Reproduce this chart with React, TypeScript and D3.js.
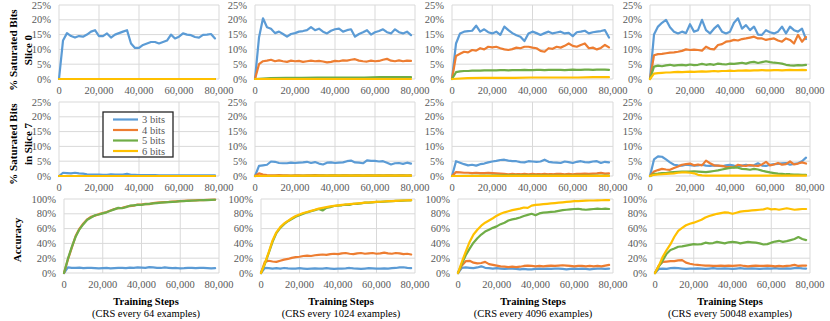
import React from "react";
import * as d3 from "d3";

// ---------- axis / label data ----------
const X_MAX = 80000;
const LAST_STEP = 78000;
const xTicks = [0, 20000, 40000, 60000, 80000];
const satTicks = [0, 5, 10, 15, 20, 25];
const accTicks = [0, 20, 40, 60, 80, 100];
const bitNames = ["3 bits", "4 bits", "5 bits", "6 bits"];
const bitColors = ["#5B9BD5", "#ED7D31", "#70AD47", "#FFC000"];
const crsEvery = ["64", "1024", "4096", "50048"];
const rowTitles = [["% Saturated Bits", "Slice 0"], ["% Saturated Bits", "in Slice 7"], ["Accuracy"]];
const xTitle = "Training Steps";

// ---------- Slice 0 (% saturated bits), values every 2,000 steps ----------
const s0_64_b3 = [0, 13, 15.5, 14.5, 14, 14.5, 14.3, 15, 16, 16.5,
  14.5, 14.5, 15.4, 14, 15, 15.5, 16, 16.5, 12, 10.5,
  10.5, 11.5, 12, 12.5, 12.5, 12, 12.5, 13, 15, 13.7,
  14.3, 15.4, 15, 14.8, 14.2, 14, 14.9, 15, 15.2, 13.7];
const s0_64_b4 = [0, 0];
const s0_64_b5 = [0, 0];
const s0_64_b6 = [0, 0];

const s0_1024_b3 = [0, 14, 20.5, 17.5, 17, 15.5, 16, 15.2, 14.3, 15.2,
  15.5, 16, 16.2, 16.5, 17.5, 16.5, 17, 16, 15.4, 16.3,
  16.8, 17, 16, 16.5, 16.8, 14.3, 15.2, 15.8, 16.5, 15,
  15.8, 16.2, 16.8, 15.8, 15.4, 16.8, 15.8, 15.4, 16, 14.8];
const s0_1024_b4 = [0, 5, 6, 6.2, 6.5, 6, 6.3, 6, 5.8, 6.2,
  6, 6.1, 5.8, 6, 6.2, 6, 6.1, 5.9, 5.6, 5.8,
  6.1, 6, 6.3, 6.2, 6.5, 6.7, 6.2, 6, 5.9, 6.2,
  6, 6.1, 6.5, 6.8, 6.2, 6, 6.3, 6, 6.2, 6.1];
const s0_1024_b5 = [0, 0.3, 0.4, 0.4, 0.5, 0.5, 0.5, 0.5, 0.6, 0.6, 0.6];
const s0_1024_b6 = [0, 0, 0];

const s0_4096_b3 = [0, 12, 15.4, 16, 16.2, 16.3, 18, 16, 16.8, 15.8,
  15.4, 16, 14.9, 17.7, 16.5, 15.5, 14.8, 14.3, 12.8, 15.4,
  16, 15.5, 14.9, 15.5, 16, 15.4, 15.7, 16, 15.4, 15.6,
  14.5, 15.8, 16, 16.3, 15.4, 15.8, 16, 16.2, 16.5, 14];
const s0_4096_b4 = [0, 7.8, 8.5, 9.2, 9, 9.8, 9.6, 10.4, 10, 10.9,
  10.7, 10.9, 10.4, 10, 9.8, 10.1, 10.6, 10.4, 10.9, 10.9,
  10.6, 10.4, 9.5, 9.2, 10.4, 10.2, 10.9, 10.6, 11.2, 12,
  11.2, 10.9, 11.5, 12, 10.4, 10.6, 10, 10.5, 11.5, 10.7];
const s0_4096_b5 = [0, 2.3, 2.6, 2.7, 2.7, 2.8, 2.8, 2.8, 2.9, 2.9,
  2.9, 2.9, 3, 3, 2.9, 3, 3, 3, 3.1, 3,
  3, 3.1, 3.1, 3, 3.1, 3.1, 3.1, 3.1, 3, 3.1,
  3.2, 3.1, 3.1, 3.2, 3.2, 3.1, 3.2, 3.2, 3.2, 3.1];
const s0_4096_b6 = [0, 0.3, 0.4, 0.4, 0.4, 0.5, 0.5, 0.5, 0.5, 0.6, 0.6];

const s0_50048_b3 = [0, 15, 17.7, 19, 20, 17.5, 16, 15.4, 16, 15.5,
  18.5, 16, 16.5, 20, 16.5, 15.4, 17, 18.2, 16, 15.4,
  16, 19, 20.5, 17, 18.2, 16.5, 17.7, 15, 14.9, 16.5,
  15.8, 15.4, 16, 17.7, 15.4, 17.7, 16.5, 16, 17, 13.5];
const s0_50048_b4 = [0, 8, 8.4, 8.5, 8.7, 8.9, 9, 9.2, 9.5, 10,
  9.8, 9.9, 9.8, 9.6, 10.9, 10.2, 10, 11.5, 11.8, 12.6,
  12.8, 13.2, 13, 13.5, 13.7, 14, 14.3, 13.7, 13.7, 13.2,
  13.5, 13.7, 13, 12.6, 13.7, 13.2, 12, 14.9, 12.6, 14.2];
const s0_50048_b5 = [0, 4.2, 4.5, 4.3, 4.6, 4.8, 4.5, 4.7, 4.8, 4.6,
  4.9, 4.7, 4.8, 5.1, 4.8, 5, 4.8, 5.2, 5, 4.9,
  5.2, 5.1, 5.3, 5.5, 5.2, 5.6, 5.8, 5.4, 5.7, 6,
  5.7, 5.5, 5.4, 5.2, 4.8, 4.6, 4.5, 4.7, 4.6, 4.8];
const s0_50048_b6 = [0, 1.8, 2, 2.1, 2.2, 2.2, 2.3, 2.4, 2.3, 2.4,
  2.5, 2.4, 2.5, 2.6, 2.5, 2.6, 2.7, 2.6, 2.7, 2.7,
  2.8, 2.7, 2.8, 2.8, 2.9, 2.8, 2.9, 2.9, 3, 2.9,
  2.9, 3, 3, 2.9, 3, 3.1, 3, 3, 3.1, 3];

// ---------- Slice 7 (% saturated bits) ----------
const s7_64_b3 = [0, 1.1, 1, 0.9, 1.1, 0.9, 0.8, 0.6, 0.5, 0.5,
  0.5, 0.4, 0.4, 0.6, 0.5, 0.5, 0.5, 0.7, 0.4, 0.4,
  0.3, 0.3, 0.3, 0.3, 0.3, 0.2, 0.2, 0.2, 0.2, 0.2,
  0.2, 0.2, 0.2, 0.2, 0.2, 0.2, 0.2, 0.2, 0.2, 0.2];
const s7_64_b4 = [0, 0];
const s7_64_b5 = [0, 0];
const s7_64_b6 = [0, 0];

const s7_1024_b3 = [0, 3.4, 3.6, 3.8, 4.9, 4.8, 4.4, 4.3, 4.3, 4.5,
  4.4, 4.5, 4.6, 4.8, 4.4, 4.7, 4.2, 3.9, 4.5, 4.6,
  4.4, 4.5, 4.6, 5, 5.2, 4.6, 4.5, 4.3, 5.3, 5.1,
  5.1, 4.9, 5, 4.5, 3.9, 4.3, 4.4, 4.1, 4.5, 4.2];
const s7_1024_b4 = [0, 0.9, 0.5, 0.3, 0.2, 0.2, 0.3, 0.2, 0.2, 0.1,
  0.2, 0.2, 0.1, 0.2, 0.2, 0.3, 0.2, 0.2, 0.1, 0.2,
  0.2, 0.1, 0.2, 0.2, 0.1, 0.2, 0.2, 0.1, 0.2, 0.2,
  0.1, 0.2, 0.1, 0.2, 0.2, 0.1, 0.2, 0.2, 0.1, 0.2];
const s7_1024_b5 = [0, 0.1, 0.1];
const s7_1024_b6 = [0, 0.1, 0.1];

const s7_4096_b3 = [0, 5, 4.5, 4, 3.6, 3.8, 3.5, 4, 4.2, 4.6,
  4.9, 5.1, 5.4, 5.5, 5.2, 5, 5, 4.7, 4.6, 5,
  4.9, 4.8, 4.9, 5.5, 4.8, 4.6, 4.5, 4.4, 4.9, 4.7,
  4.4, 4.8, 5, 4.7, 4.6, 4.9, 5, 4.4, 4.8, 4.6];
const s7_4096_b4 = [0, 1.3, 1.2, 1.1, 1.1, 1, 1.1, 1, 1, 1.1,
  1, 0.9, 0.8, 0.7, 0.6, 0.7, 0.6, 0.6, 0.7, 0.6,
  0.7, 0.6, 0.6, 0.7, 0.6, 0.6, 0.7, 0.7, 0.6, 0.7,
  0.6, 0.7, 0.7, 0.8, 0.7, 0.8, 0.9, 1.1, 0.8, 0.9];
const s7_4096_b5 = [0, 0.2, 0.1, 0.1];
const s7_4096_b6 = [0, 0.05, 0.05];

const s7_50048_b3 = [0, 5.6, 6.6, 6.5, 5.6, 4.6, 3.8, 3.6, 3.5, 3.8,
  3.7, 3.5, 3.6, 3.8, 3.5, 3.4, 3.6, 3.5, 3.3, 3.6,
  3.8, 3.5, 3.3, 3.5, 3.8, 3.5, 3.6, 4.3, 3.5, 3.4,
  3.8, 4, 4.1, 4.3, 4.4, 3.8, 4.1, 4.3, 5, 6.2];
const s7_50048_b4 = [0, 1.5, 2, 2.4, 2.2, 2.1, 2.7, 3.2, 3.8, 4,
  4.2, 3.6, 3.9, 3.6, 5.2, 4.3, 3.6, 3.5, 3.4, 3.1,
  3, 2.9, 3.8, 3.5, 3.4, 3.7, 3.5, 3.4, 3.9, 4.8,
  3.6, 3.9, 4.4, 3.8, 4, 4.9, 3.9, 4.2, 4.6, 4.2];
const s7_50048_b5 = [0, 0.7, 0.8, 1, 1, 1.2, 1.3, 1.4, 1.5, 1.5,
  1.5, 1.6, 1.5, 1.4, 1.3, 1.5, 1.7, 1.9, 2.2, 2.5,
  2.7, 2.9, 2.8, 2.4, 2.3, 2.1, 2.4, 2.2, 1.8, 1.5,
  1.2, 1, 0.8, 0.7, 0.6, 0.6, 0.5, 0.5, 0.4, 0.4];
const s7_50048_b6 = [0, 0.4, 0.5, 0.6, 0.7, 0.8, 0.9, 1.1, 1.2, 1.2,
  1.1, 0.9, 0.4, 0.2, 0.1, 0.1, 0.1, 0.1, 0.1, 0.1,
  0.1, 0.1, 0.1, 0.1, 0.1, 0.1, 0.1, 0.1, 0.1, 0.1,
  0.1, 0.1, 0.1, 0.1, 0.1, 0.1, 0.1, 0.1, 0.1, 0.1];

// ---------- Accuracy (%) ----------
const acc_64_b3 = [0, 7.5, 7, 6.8, 7.2, 6.5, 7, 6.8, 6.5, 6.2,
  6.5, 6.8, 6.3, 6.5, 6.8, 7, 6.5, 7.2, 7, 7.5,
  7.2, 7, 8, 7.5, 7, 6.8, 7.5, 7, 6.5, 6.8,
  6.2, 6.5, 7, 6.8, 6.5, 7, 6.8, 6.5, 6.2, 6.5];
const acc_64_b4 = [0, 18, 34, 50, 60, 67, 72.5, 76, 77.5, 79.5,
  81, 82.5, 84.5, 86.5, 87.5, 88, 89.5, 90.5, 91, 92.5,
  92.5, 93.5, 93, 94.5, 95, 95.5, 95.8, 96, 96.5, 96.8,
  97.2, 97.5, 97.8, 98, 98.2, 98.4, 98.6, 98.8, 99, 99.2];
const acc_64_b5 = [0, 19, 35, 49, 59, 66, 72, 75, 78, 79,
  80.5, 82, 84, 86, 88, 87.5, 89, 91, 91.5, 92,
  92, 93, 93.5, 94, 94.5, 95, 95.5, 95.8, 96.2, 96.5,
  97, 97.2, 97.6, 97.8, 98, 98.3, 98.5, 98.6, 98.8, 99];
const acc_64_b6: number[] | null = null;

const acc_1024_b3 = [0, 7, 6.5, 6, 6.5, 6, 6.8, 6.2, 5.8, 6,
  6.5, 6, 5.5, 6, 6.3, 5.8, 6, 6.5, 6, 5.5,
  5.8, 6, 6.3, 6.8, 6.2, 6, 5.5, 6, 6.5, 6.2,
  5.8, 6, 6.3, 6, 6.5, 6.8, 7.5, 7.8, 7, 6.5];
const acc_1024_b4 = [0, 15, 16.5, 15.5, 15, 16.5, 18, 19, 20.5, 21.5,
  22, 23, 23.5, 23, 24, 24.5, 25, 24.5, 25.5, 26,
  25.5, 26.5, 27, 26, 25.5, 26.5, 27, 26, 26.5, 27,
  26, 26.5, 27.5, 26.5, 26, 27, 26.5, 25.5, 26, 25];
const acc_1024_b5 = [0, 12, 27, 42, 54, 61, 66, 70, 73, 76,
  78, 80, 82, 83.5, 85, 86.5, 84.5, 88, 89, 90.5,
  91, 91.5, 92.5, 92, 93.5, 93.5, 94, 95, 95, 95.5,
  96, 96, 96.5, 96.8, 97, 97.5, 97.5, 97.8, 98, 98.2];
const acc_1024_b6 = [0, 13, 28, 44, 55, 62, 67, 70.5, 74, 77,
  79, 81, 82.5, 84, 85.5, 87, 88, 89, 90, 90.8,
  91.5, 92, 92.6, 93, 93.5, 94, 94.5, 95, 95.3, 95.7,
  96, 96.3, 96.6, 97, 97.2, 97.5, 97.8, 98, 98.2, 98.4];

const acc_4096_b3 = [0, 7, 7.5, 7, 6.5, 7.5, 9, 7, 6.5, 6,
  6.5, 6, 5.5, 6, 5.8, 5.5, 5, 5.5, 5, 4.8,
  5.5, 5.8, 5.5, 6, 5.5, 5.8, 6, 5.5, 5, 5.5,
  6, 5.5, 5.8, 5.5, 5, 5.5, 5.8, 6, 5.5, 5.8];
const acc_4096_b4 = [0, 10, 16, 16.5, 14, 13, 13.5, 15, 12, 11,
  10, 9, 8.5, 8, 8.5, 8, 8.5, 9.5, 10, 9.5,
  9, 9.5, 9, 9.5, 10, 9.5, 10, 10.5, 10, 9.5,
  9, 9.5, 9.5, 9, 9.5, 9, 9.5, 9, 10, 11];
const acc_4096_b5 = [0, 12.5, 24, 33, 41, 47, 52, 56, 58.5, 61,
  63, 66, 68, 71, 72.5, 73.5, 75, 77, 78.5, 80,
  78, 80.5, 81.5, 82, 82.5, 83, 84, 85, 85.5, 86,
  86.5, 86.8, 86, 85.5, 86, 86.5, 87, 86.5, 87, 86.5];
const acc_4096_b6 = [0, 15, 29, 42, 52, 58.5, 64, 68, 71, 74,
  77.5, 80, 82, 83.5, 85, 86, 87, 88.5, 88, 91,
  92, 92.5, 93, 93.5, 94, 94.5, 95, 95.5, 96, 96.5,
  97, 97.2, 97.5, 97.7, 98, 98, 98.2, 98.3, 98.4, 98.5];

const acc_50048_b3 = [0, 5.5, 6, 5.5, 6.5, 7, 6.5, 6, 5.5, 6,
  5.8, 6.2, 6, 5.5, 6, 6.5, 6, 5.8, 6.2, 6,
  5.5, 6, 6.5, 6, 5.8, 6.2, 6, 5.5, 6, 6.2,
  6, 6.5, 6, 5.8, 6.2, 6, 6.5, 6.8, 6.2, 6];
const acc_50048_b4 = [0, 10, 15, 15.5, 16, 16, 17, 17.5, 14, 12.5,
  11.5, 11, 10.5, 10, 10, 9.5, 9.5, 10, 9.5, 10,
  9.5, 10, 10.5, 9.5, 9, 9.5, 10, 9.5, 9.5, 10,
  9.5, 9, 9.5, 9, 9.5, 10, 11, 9.5, 10, 10];
const acc_50048_b5 = [0, 9, 17, 26, 31, 33, 35.5, 36, 37, 38,
  39, 38.5, 39, 41, 40, 40.5, 42, 41, 40, 41.5,
  42, 41.5, 40, 41, 42, 41.5, 41, 40, 38.5, 39,
  41, 42.5, 43.5, 42, 43, 44.5, 46, 48.5, 46, 44.5];
const acc_50048_b6 = [0, 10, 22, 31, 39, 49, 57, 61, 64.5, 66.5,
  68, 70, 72, 75, 77, 78.6, 80, 81, 82, 81.5,
  80, 81.5, 83, 83.5, 84, 84.5, 85, 85.5, 86, 87.5,
  86, 86.5, 85.5, 86.5, 87.5, 86.5, 85.5, 86, 86.5, 86.5];

// ---------- panel tables built from the arrays ----------
const slice0Panels = [
  [s0_64_b3, s0_64_b4, s0_64_b5, s0_64_b6],
  [s0_1024_b3, s0_1024_b4, s0_1024_b5, s0_1024_b6],
  [s0_4096_b3, s0_4096_b4, s0_4096_b5, s0_4096_b6],
  [s0_50048_b3, s0_50048_b4, s0_50048_b5, s0_50048_b6],
];
const slice7Panels = [
  [s7_64_b3, s7_64_b4, s7_64_b5, s7_64_b6],
  [s7_1024_b3, s7_1024_b4, s7_1024_b5, s7_1024_b6],
  [s7_4096_b3, s7_4096_b4, s7_4096_b5, s7_4096_b6],
  [s7_50048_b3, s7_50048_b4, s7_50048_b5, s7_50048_b6],
];
const accPanels = [
  [acc_64_b3, acc_64_b4, acc_64_b5, acc_64_b6],
  [acc_1024_b3, acc_1024_b4, acc_1024_b5, acc_1024_b6],
  [acc_4096_b3, acc_4096_b4, acc_4096_b5, acc_4096_b6],
  [acc_50048_b3, acc_50048_b4, acc_50048_b5, acc_50048_b6],
];

// ---------- layout (pixels) ----------
const W = 830;
const H = 321;
const FONT = "Liberation Serif, Times New Roman, serif";
const TICK_COLOR = "#595959";
const GRID = "#D9D9D9";
const rowsLayout = [
  { top: 5, bottom: 79, lefts: [59, 255, 452, 650] },
  { top: 102, bottom: 176, lefts: [59, 255, 452, 650] },
  { top: 199, bottom: 273, lefts: [64, 261, 458, 655] },
];
const rights = [219, 415, 613, 810];
const titleCenters = [146, 341, 533, 730];
const rowTitleY = [50, 144, 240];

type Series = number[] | null;

function Panel(props: {
  series: Series[];
  ticks: number[];
  yMax: number;
  left: number;
  right: number;
  top: number;
  bottom: number;
}) {
  const { series, ticks, yMax, left, right, top, bottom } = props;
  const x = d3.scaleLinear().domain([0, X_MAX]).range([left, right]);
  const y = d3.scaleLinear().domain([0, yMax]).range([bottom, top]);
  const lineGen = (vals: number[]) =>
    d3
      .line<number>()
      .x((_d, i) => x((i * LAST_STEP) / (vals.length - 1)))
      .y((d) => y(d))(vals) || "";
  return (
    <g>
      {ticks.map((t) => (
        <line key={"h" + t} x1={left} x2={right} y1={y(t)} y2={y(t)} stroke={GRID} strokeWidth={1} />
      ))}
      {xTicks.map((t) => (
        <line key={"v" + t} x1={x(t)} x2={x(t)} y1={top} y2={bottom} stroke={GRID} strokeWidth={1} />
      ))}
      {ticks.map((t) => (
        <text
          key={"yl" + t}
          x={left - 8}
          y={y(t)}
          dy="0.35em"
          textAnchor="end"
          fontSize={10.5}
          fill={TICK_COLOR}
          style={{ fontFamily: FONT }}
        >
          {t + "%"}
        </text>
      ))}
      {xTicks.map((t) => (
        <text
          key={"xl" + t}
          x={x(t)}
          y={bottom + 15}
          textAnchor="middle"
          fontSize={10.5}
          fill={TICK_COLOR}
          style={{ fontFamily: FONT }}
        >
          {d3.format(",")(t)}
        </text>
      ))}
      {series.map((vals, k) =>
        vals ? (
          <path
            key={"s" + k}
            d={lineGen(vals)}
            fill="none"
            stroke={bitColors[k]}
            strokeWidth={2.2}
            strokeLinejoin="round"
            strokeLinecap="round"
          />
        ) : null
      )}
    </g>
  );
}

export default function App() {
  const rows = [
    { panels: slice0Panels, ticks: satTicks, yMax: 25 },
    { panels: slice7Panels, ticks: satTicks, yMax: 25 },
    { panels: accPanels, ticks: accTicks, yMax: 100 },
  ];
  const legendX = 103;
  const legendY = 112;
  return (
    <svg
      width={W}
      height={H}
      viewBox={`0 0 ${W} ${H}`}
      style={{ position: "absolute", left: 0, top: 0, background: "#fff" }}
    >
      <rect x={0} y={0} width={W} height={H} fill="#fff" />
      {rows.map((row, r) =>
        row.panels.map((series, c) => (
          <Panel
            key={r + "-" + c}
            series={series as Series[]}
            ticks={row.ticks}
            yMax={row.yMax}
            left={rowsLayout[r].lefts[c]}
            right={rights[c]}
            top={rowsLayout[r].top}
            bottom={rowsLayout[r].bottom}
          />
        ))
      )}
      {rowTitles.map((lines, r) => {
        const n = lines.length;
        const xs = n === 2 ? [13, 28] : [17];
        return lines.map((txt, i) => (
          <text
            key={"rt" + r + i}
            transform={`translate(${xs[i] + 4},${rowTitleY[r]}) rotate(-90)`}
            textAnchor="middle"
            fontSize={11}
            fontWeight="bold"
            style={{ fontFamily: FONT }}
            fill="#000"
          >
            {txt}
          </text>
        ));
      })}
      {crsEvery.map((n, c) => (
        <g key={"xt" + c}>
          <text x={titleCenters[c]} y={305} textAnchor="middle" fontSize={10.5} fontWeight="bold" style={{ fontFamily: FONT }} fill="#000">
            {xTitle}
          </text>
          <text x={titleCenters[c]} y={317} textAnchor="middle" fontSize={10.5} style={{ fontFamily: FONT }} fill="#000">
            {`(CRS every ${n} examples)`}
          </text>
        </g>
      ))}
      <g>
        <rect x={legendX} y={legendY} width={70} height={45} fill="#fff" stroke="#262626" strokeWidth={1.3} />
        {bitNames.map((name, k) => {
          const yy = legendY + 7.5 + k * 10.5;
          return (
            <g key={"lg" + k}>
              <line x1={legendX + 10} x2={legendX + 35} y1={yy} y2={yy} stroke={bitColors[k]} strokeWidth={2.2} />
              <text x={legendX + 39} y={yy} dy="0.35em" fontSize={10.5} style={{ fontFamily: FONT }} fill={TICK_COLOR}>
                {name}
              </text>
            </g>
          );
        })}
      </g>
    </svg>
  );
}
